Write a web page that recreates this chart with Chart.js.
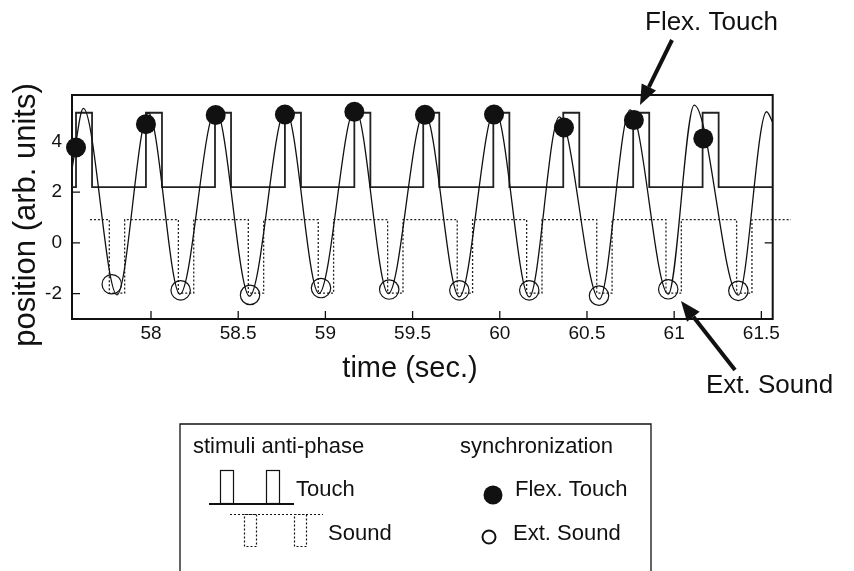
<!DOCTYPE html>
<html>
<head>
<meta charset="utf-8">
<script src="https://cdn.jsdelivr.net/npm/chart.js@4.4.1/dist/chart.umd.min.js"></script>
<style>
  html, body { margin: 0; padding: 0; background: #fff; }
  #wrap { width: 854px; height: 571px; position: relative; }
</style>
</head>
<body>
<div id="wrap"><canvas id="chart"></canvas></div>
<script>
// axis ranges and ticks
var xMin = 57.547, xMax = 61.565;
var yMin = -3.0, yMax = 5.83;
var xTicks = [58, 58.5, 59, 59.5, 60, 60.5, 61, 61.5];
var yTicks = [-2, 0, 2, 4];
var yTicksRight = [0];

// touch stimulus (solid square wave)
var touchOn  = [57.570, 57.971, 58.367, 58.768, 59.166, 59.561, 59.963, 60.364, 60.765, 61.163];
var touchOff = [57.662, 58.063, 58.459, 58.860, 59.258, 59.653, 60.055, 60.456, 60.857, 61.255];
var touchLevels = [2.2, 5.13];      // rest, pulse
var touchSpan = [57.547, 61.565];

// sound stimulus (dotted square wave, anti-phase)
var soundOn  = [57.761, 58.157, 58.558, 58.959, 59.357, 59.756, 60.154, 60.556, 60.953, 61.358];
var soundOff = [57.849, 58.245, 58.646, 59.047, 59.445, 59.844, 60.242, 60.644, 61.041, 61.446];
var soundLevels = [0.92, -1.98];    // rest, pulse
var soundSpan = [57.650, 61.670];

// finger position trace (turning points)
var posTime  = [57.549, 57.612, 57.805, 57.985, 58.166, 58.371, 58.565, 58.772, 58.963, 59.170, 59.361,
                59.568, 59.768, 59.972, 60.169, 60.341, 60.571, 60.747, 60.966, 61.115, 61.368, 61.530, 61.565];
var posValue = [3.0, 5.30, -2.05, 5.12, -2.02, 5.24, -2.10, 5.24, -2.00, 5.30, -2.00,
                5.15, -2.13, 5.24, -2.13, 4.97, -2.22, 5.24, -2.02, 5.43, -2.06, 5.17, 4.75];

// synchronization marks
var flexTime = [57.570, 57.971, 58.371, 58.768, 59.166, 59.571, 59.967, 60.368, 60.769, 61.167];
var flexPos  = [3.76, 4.68, 5.04, 5.06, 5.17, 5.05, 5.06, 4.55, 4.84, 4.12];
var extTime  = [57.775, 58.170, 58.568, 58.975, 59.366, 59.768, 60.169, 60.569, 60.966, 61.368];
var extPos   = [-1.63, -1.87, -2.05, -1.78, -1.84, -1.87, -1.87, -2.08, -1.83, -1.89];

var FONT = '"Liberation Sans", Arial, Helvetica, sans-serif';
var INK = '#111';

function pulseWave(span, on, off, levels) {
    var pts = [{x: span[0], y: levels[0]}];
    for (var i = 0; i < on.length; i++) {
        pts.push({x: on[i], y: levels[0]}, {x: on[i], y: levels[1]},
                 {x: off[i], y: levels[1]}, {x: off[i], y: levels[0]});
    }
    pts.push({x: span[1], y: levels[0]});
    return pts;
}

function pairs(xs, ys) {
    return xs.map(function (x, i) { return {x: x, y: ys[i]}; });
}

function arrow(ctx, x1, y1, x2, y2) {
    var ang = Math.atan2(y2 - y1, x2 - x1), head = 20, half = 8;
    var bx = x2 - head * Math.cos(ang), by = y2 - head * Math.sin(ang);
    ctx.lineWidth = 4;
    ctx.beginPath(); ctx.moveTo(x1, y1); ctx.lineTo(bx, by); ctx.stroke();
    ctx.beginPath();
    ctx.moveTo(x2, y2);
    ctx.lineTo(bx + half * Math.sin(ang), by - half * Math.cos(ang));
    ctx.lineTo(bx - half * Math.sin(ang), by + half * Math.cos(ang));
    ctx.closePath(); ctx.fill();
}

// box around the plot with inward tick marks
var frame = {
    id: 'frame',
    beforeDatasetsDraw: function (chart) {
        var ctx = chart.ctx, a = chart.chartArea, xs = chart.scales.x, ys = chart.scales.y;
        ctx.save();
        ctx.strokeStyle = INK;
        ctx.lineWidth = 2;
        ctx.strokeRect(a.left, a.top, a.right - a.left, a.bottom - a.top);
        ctx.lineWidth = 1.3;
        ctx.beginPath();
        xTicks.forEach(function (v) {
            var px = xs.getPixelForValue(v);
            ctx.moveTo(px, a.bottom); ctx.lineTo(px, a.bottom - 8);
        });
        yTicks.forEach(function (v) {
            var py = ys.getPixelForValue(v);
            ctx.moveTo(a.left, py); ctx.lineTo(a.left + 8, py);
        });
        yTicksRight.forEach(function (v) {
            var py = ys.getPixelForValue(v);
            ctx.moveTo(a.right, py); ctx.lineTo(a.right - 8, py);
        });
        ctx.stroke();
        ctx.restore();
    }
};

// titles, arrows and the legend box
var extras = {
    id: 'extras',
    afterDraw: function (chart) {
        var ctx = chart.ctx;
        ctx.save();
        ctx.fillStyle = INK; ctx.strokeStyle = INK;
        ctx.textBaseline = 'alphabetic';

        // axis titles
        ctx.font = '31px ' + FONT;
        ctx.save();
        ctx.translate(35, 215); ctx.rotate(-Math.PI / 2);
        ctx.textAlign = 'center';
        ctx.fillText('position (arb. units)', 0, 0);
        ctx.restore();
        ctx.font = '29px ' + FONT;
        ctx.textAlign = 'center';
        ctx.fillText('time (sec.)', 410, 377);

        // annotations
        ctx.font = '26px ' + FONT;
        ctx.textAlign = 'left';
        ctx.fillText('Flex. Touch', 645, 30);
        ctx.fillText('Ext. Sound', 706, 393);
        arrow(ctx, 672, 40, 640, 105);
        arrow(ctx, 735, 370, 681, 301);

        // legend box
        ctx.lineWidth = 1.3;
        ctx.beginPath();
        ctx.moveTo(180, 575); ctx.lineTo(180, 424); ctx.lineTo(651, 424); ctx.lineTo(651, 575);
        ctx.stroke();
        ctx.font = '22px ' + FONT;
        ctx.fillText('stimuli anti-phase', 193, 453);
        ctx.fillText('synchronization', 460, 453);
        ctx.fillText('Touch', 296, 496);
        ctx.fillText('Sound', 328, 540);
        ctx.fillText('Flex. Touch', 515, 496);
        ctx.fillText('Ext. Sound', 513, 540);

        // touch icon
        ctx.lineWidth = 2;
        ctx.beginPath(); ctx.moveTo(209, 504); ctx.lineTo(294, 504); ctx.stroke();
        ctx.lineWidth = 1.2;
        ctx.strokeRect(220.5, 470.5, 13, 33);
        ctx.strokeRect(266.5, 470.5, 13, 33);
        // sound icon
        ctx.setLineDash([2, 2]);
        ctx.beginPath(); ctx.moveTo(230, 514.5); ctx.lineTo(323, 514.5); ctx.stroke();
        ctx.strokeRect(244.5, 514.5, 12, 32);
        ctx.strokeRect(294.5, 514.5, 12, 32);
        ctx.setLineDash([]);
        // marker icons
        ctx.beginPath(); ctx.arc(493, 495, 9.5, 0, Math.PI * 2); ctx.fill();
        ctx.lineWidth = 2;
        ctx.beginPath(); ctx.arc(489, 537, 6.5, 0, Math.PI * 2); ctx.stroke();
        ctx.restore();
    }
};

var ctx = document.getElementById('chart').getContext('2d');
var chart = new Chart(ctx, {
    type: 'line',
    data: {
        datasets: [{
            label: 'Flex. Touch',
            data: pairs(flexTime, flexPos),
            showLine: false,
            pointRadius: 10,
            pointBackgroundColor: INK,
            pointBorderColor: INK,
            pointBorderWidth: 0,
            clip: false
        }, {
            label: 'Ext. Sound',
            data: pairs(extTime, extPos),
            showLine: false,
            pointRadius: 9.7,
            pointBackgroundColor: 'rgba(0,0,0,0)',
            pointBorderColor: INK,
            pointBorderWidth: 1.2,
            clip: false
        }, {
            label: 'position',
            data: pairs(posTime, posValue),
            borderColor: INK,
            borderWidth: 1.3,
            pointRadius: 0,
            cubicInterpolationMode: 'monotone'
        }, {
            label: 'Touch',
            data: pulseWave(touchSpan, touchOn, touchOff, touchLevels),
            borderColor: '#222',
            borderWidth: 1.8,
            pointRadius: 0,
            tension: 0
        }, {
            label: 'Sound',
            data: pulseWave(soundSpan, soundOn, soundOff, soundLevels),
            borderColor: '#222',
            borderWidth: 1.3,
            borderDash: [2, 2],
            pointRadius: 0,
            tension: 0,
            clip: false
        }]
    },
    options: {
        responsive: true,
        maintainAspectRatio: false,
        animation: false,
        devicePixelRatio: 1,
        layout: { padding: { top: 95, right: 81.3, left: 0, bottom: 0 } },
        plugins: {
            legend: { display: false },
            tooltip: { enabled: false }
        },
        scales: {
            x: {
                type: 'linear',
                min: xMin,
                max: xMax,
                grid: { display: false, drawTicks: false },
                border: { display: false },
                ticks: {
                    color: INK,
                    padding: 3,
                    autoSkip: false,
                    maxRotation: 0,
                    font: { family: FONT, size: 19 },
                    callback: function (v) { return String(v); }
                },
                afterBuildTicks: function (s) {
                    s.ticks = xTicks.map(function (v) { return {value: v}; });
                },
                afterFit: function (s) { s.height = 252; }
            },
            y: {
                min: yMin,
                max: yMax,
                grid: { display: false, drawTicks: false },
                border: { display: false },
                ticks: {
                    color: INK,
                    padding: 10,
                    font: { family: FONT, size: 19 },
                    callback: function (v) { return String(v); }
                },
                afterBuildTicks: function (s) {
                    s.ticks = yTicks.map(function (v) { return {value: v}; });
                },
                afterFit: function (s) { s.width = 72; }
            }
        }
    },
    plugins: [frame, extras]
});
</script>
</body>
</html>
